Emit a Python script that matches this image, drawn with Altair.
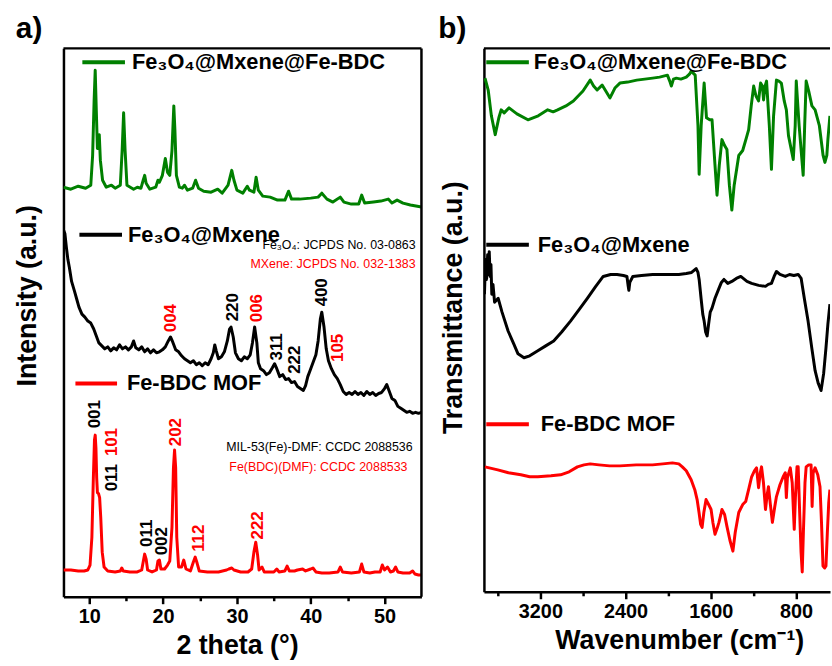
import altair as alt
import pandas as pd

FONT = "Liberation Sans"
GREEN = "#008000"
RED = "#ff0000"
BLACK = "#000000"

# ---------- (a) XRD patterns: 2θ (°) and stacked intensity (a.u.) ----------
xrd_green_2theta = [6.5, 7.5, 8.5, 9.5, 10.2, 10.45, 10.65, 10.8, 10.95, 11.1, 11.35, 11.5, 11.8, 12.3,
                    13.0, 13.5, 14.2, 14.45, 14.65, 14.85, 15.1, 16.0, 16.5, 17.0, 17.3, 17.5, 17.7,
                    18.2, 19.0, 19.3, 19.5, 19.9, 20.3, 20.6, 20.9, 21.2, 21.45, 21.6, 21.8, 22.2,
                    22.6, 22.9, 23.3, 24.0, 24.4, 24.8, 25.5, 26.5, 27.4, 28.0, 28.8, 29.3, 29.6,
                    30.0, 30.8, 31.4, 31.7, 32.3, 32.6, 32.9, 33.5, 34.5, 35.5, 36.5, 37.0, 37.4,
                    38.5, 40.0, 41.0, 41.5, 42.2, 43.0, 44.0, 44.5, 45.5, 46.5, 46.9, 47.3, 48.5,
                    49.5, 50.5, 51.0, 51.7, 52.5, 53.5, 55.0]
xrd_green_int = [413, 411, 414, 412, 415, 445, 500, 531, 490, 452, 466, 440, 420, 413,
                 415, 412, 415, 450, 488, 450, 415, 411, 413, 412, 420, 425, 417,
                 411, 413, 420, 418, 425, 442, 428, 425, 450, 495, 470, 425, 413,
                 412, 415, 410, 412, 420, 412, 409, 408, 411, 407, 415, 430, 420,
                 410, 407, 414, 410, 408, 423, 410, 404, 403, 400, 400, 409, 401,
                 401, 402, 403, 407, 401, 398, 403, 398, 396, 396, 405, 397, 398,
                 399, 401, 397, 400, 397, 395, 393]

xrd_black_2theta = [6.5, 6.7, 6.9, 7.1, 7.3, 7.6, 8.0, 8.3, 8.6, 9.0, 9.4, 9.8, 10.2, 10.6, 11.0,
                    11.3, 11.7, 12.1, 12.5, 12.9, 13.3, 13.7, 14.1, 14.5, 14.9, 15.3, 15.7, 16.0,
                    16.3, 16.7, 17.1, 17.5, 17.9, 18.3, 18.7, 19.1, 19.5, 19.9, 20.3, 20.7, 21.0,
                    21.3, 21.7, 22.1, 22.5, 22.9, 23.3, 23.7, 24.1, 24.5, 24.9, 25.3, 25.7, 26.1,
                    26.5, 26.8, 27.0, 27.2, 27.5, 27.9, 28.3, 28.7, 29.0, 29.2, 29.5, 29.8, 30.2,
                    30.6, 31.0, 31.4, 31.8, 32.1, 32.4, 32.7, 32.9, 33.2, 33.6, 34.0, 34.4, 34.8,
                    35.1, 35.4, 35.8, 36.2, 36.6, 37.0, 37.4, 37.8, 38.2, 38.6, 39.0, 39.3, 39.6,
                    39.9, 40.3, 40.7, 41.0, 41.3, 41.5, 41.8, 42.1, 42.4, 42.8, 43.2, 43.6, 44.0,
                    44.4, 44.8, 45.2, 45.6, 46.0, 46.4, 46.8, 47.2, 47.6, 48.0, 48.4, 48.8, 49.2,
                    49.6, 50.0, 50.3, 50.6, 51.0, 51.4, 51.8, 52.2, 52.6, 53.0, 53.4, 53.8, 54.2,
                    54.6, 55.0]
xrd_black_int = [370, 366, 352, 340, 332, 318, 308, 300, 292, 285, 282, 278, 276, 270, 262,
                 256, 253, 250, 252, 248, 251, 249, 254, 250, 252, 249, 252, 258,
                 251, 249, 252, 247, 250, 246, 249, 246, 247, 249, 252, 258, 262,
                 257, 249, 247, 243, 240, 238, 236, 238, 234, 236, 233, 236, 234,
                 240, 246, 254, 248, 240, 242, 247, 258, 270, 272, 262, 246, 240,
                 238, 242, 240, 244, 256, 272, 256, 236, 230, 228, 224, 226, 231,
                 235, 230, 222, 224, 219, 220, 216, 217, 212, 210, 208, 213, 222,
                 228, 236, 244, 258, 280, 287, 272, 250, 238, 230, 224, 220, 214,
                 207, 204, 206, 204, 207, 204, 206, 203, 207, 204, 206, 203, 205,
                 206, 210, 214, 208, 200, 198, 192, 190, 188, 186, 187, 185, 186,
                 185, 186]

xrd_red_2theta = [6.5, 7.5, 8.5, 9.3, 9.8, 10.1, 10.35, 10.55, 10.7, 10.8, 10.9, 11.0, 11.1, 11.25,
                  11.4, 11.55, 11.75, 12.0, 12.5, 13.5, 14.2, 14.4, 14.6, 15.5, 16.5, 17.1, 17.3,
                  17.5, 17.7, 17.9, 18.5, 19.1, 19.3, 19.5, 19.7, 20.2, 20.6, 20.9, 21.2, 21.4,
                  21.55, 21.7, 21.85, 22.1, 22.5, 22.8, 23.1, 23.7, 24.1, 24.35, 24.6, 24.9, 26.0,
                  27.5, 28.6, 28.9, 29.3, 29.6, 30.5, 31.5, 32.0, 32.3, 32.55, 32.8, 33.0, 33.4,
                  33.7, 35.0, 35.4, 35.7, 36.5, 36.8, 37.1, 37.8, 38.2, 38.9, 39.3, 40.0, 40.3,
                  40.7, 41.5, 42.5, 43.7, 44.0, 44.3, 45.5, 46.6, 46.9, 47.2, 48.0, 48.7, 49.4,
                  49.7, 50.0, 50.4, 50.8, 51.2, 51.5, 51.8, 52.5, 53.4, 53.8, 54.1, 54.6, 55.0]
xrd_red_int = [27, 27, 26, 26, 27, 32, 60, 120, 158, 163, 150, 120, 105, 104,
               100, 80, 45, 30, 26, 25, 26, 29, 26, 25, 25, 27, 35,
               43, 38, 27, 25, 27, 36, 37, 28, 28, 32, 36, 70, 130,
               148, 130, 60, 30, 30, 37, 28, 26, 35, 40, 34, 26, 25,
               25, 27, 28, 29, 27, 25, 25, 28, 45, 55, 42, 27, 30,
               25, 25, 28, 25, 26, 31, 26, 26, 27, 28, 26, 28, 29,
               25, 24, 24, 25, 30, 25, 24, 25, 33, 25, 24, 25, 25,
               32, 27, 30, 25, 26, 30, 25, 24, 24, 26, 23, 22, 22]

# ---------- (b) FTIR spectra: wavenumber (cm-1) and stacked transmittance (a.u.) ----------
ftir_green_wn = [3720, 3690, 3660, 3624, 3590, 3568, 3540, 3494, 3420, 3317, 3220, 3131, 3080,
                 3038, 2960, 2890, 2800, 2732, 2700, 2667, 2620, 2546, 2500, 2453, 2380, 2295,
                 2220, 2146, 2080, 2007, 1985, 1970, 1950, 1923, 1880, 1830, 1800, 1784, 1746,
                 1720, 1709, 1690, 1662, 1640, 1610, 1588, 1560, 1541, 1520, 1495, 1470, 1448,
                 1425, 1402, 1380, 1337, 1300, 1265, 1244, 1220, 1197, 1175, 1151, 1132, 1115,
                 1104, 1090, 1076, 1050, 1030, 1010, 983, 960, 937, 910, 890, 870, 844, 825, 807,
                 797, 770, 732, 718, 704, 680, 650, 620, 580, 545, 528, 510, 500, 481]
ftir_green_t = [518, 506, 480, 461, 478, 486, 483, 488, 482, 476, 480, 486, 484,
                486, 490, 495, 505, 516, 510, 506, 511, 498, 508, 513, 514, 516,
                517, 518, 519, 521, 515, 510, 517, 518, 517, 519, 522, 525, 521,
                470, 421, 470, 513, 478, 476, 476, 430, 400, 430, 456, 450, 446,
                410, 385, 410, 440, 445, 458, 466, 490, 510, 500, 495, 513, 510,
                496, 510, 515, 470, 426, 480, 516, 515, 513, 495, 486, 460, 446, 436, 470,
                515, 470, 420, 470, 515, 505, 490, 486, 470, 440, 433, 440, 456, 480]

ftir_black_wn = [3725, 3715, 3705, 3695, 3688, 3680, 3672, 3664, 3656, 3645, 3630, 3596, 3560,
                 3503, 3450, 3410, 3354, 3300, 3224, 3150, 3075, 3000, 2917, 2840, 2759, 2680,
                 2610, 2540, 2480, 2420, 2387, 2375, 2369, 2360, 2332, 2250, 2146, 2000, 1900,
                 1830, 1780, 1737, 1720, 1709, 1690, 1675, 1662, 1648, 1634, 1620, 1605, 1588,
                 1560, 1523, 1500, 1476, 1440, 1402, 1360, 1318, 1260, 1216, 1150, 1086, 1060,
                 1030, 1005, 983, 950, 900, 860, 820, 779, 751, 720, 686, 650, 620, 590, 564,
                 540, 518, 500, 481]
ftir_black_t = [300, 335, 315, 340, 320, 343, 318, 330, 300, 310, 292, 296, 282,
                263, 250, 240, 236, 238, 243, 248, 253, 262, 273, 284, 296, 308,
                318, 320, 320, 319, 318, 308, 304, 312, 318, 319, 320, 320, 320,
                321, 322, 326, 322, 315, 295, 280, 273, 262, 258, 270, 282, 286,
                296, 306, 312, 315, 311, 313, 316, 318, 313, 311, 309, 308, 310,
                311, 318, 323, 320, 318, 320, 319, 320, 316, 295, 273, 245, 223, 210, 203,
                220, 246, 270, 290]

ftir_red_wn = [3720, 3600, 3500, 3383, 3300, 3224, 3100, 3010, 2930, 2852, 2790, 2732, 2650,
               2550, 2453, 2300, 2146, 2050, 1960, 1900, 1867, 1830, 1784, 1750, 1728, 1710,
               1695, 1681, 1665, 1644, 1620, 1597, 1580, 1560, 1540, 1523, 1505, 1495, 1470,
               1448, 1420, 1392, 1370, 1337, 1300, 1272, 1240, 1216, 1190, 1170, 1151, 1135,
               1123, 1105, 1086, 1070, 1058, 1040, 1021, 1000, 983, 950, 920, 900, 890, 880,
               853, 835, 825, 816, 805, 790, 779, 765, 752, 741, 730, 715, 704, 680, 658, 648,
               638, 620, 595, 574, 560, 546, 530, 518, 505, 492, 481]
ftir_red_t = [126, 123, 120, 118, 116, 116, 117, 118, 121, 126, 128, 129, 128,
              127, 127, 128, 128, 129, 130, 129, 126, 122, 113, 103, 93, 80,
              68, 65, 80, 93, 88, 83, 70, 58, 64, 70, 78, 83, 78,
              66, 52, 41, 60, 80, 88, 91, 105, 116, 122, 125, 105, 120,
              126, 110, 83, 98, 106, 88, 70, 85, 96, 108, 116, 120, 95, 115,
              125, 110, 85, 63, 95, 126, 126, 80, 40, 20, 60, 110, 126, 128, 128, 86,
              120, 125, 118, 106, 70, 26, 24, 26, 60, 90, 103]

# ---------- annotations ----------
series_names = ["Fe₃O₄@Mxene@Fe-BDC", "Fe₃O₄@Mxene", "Fe-BDC MOF"]
series_colors = [GREEN, BLACK, RED]

# hkl reflections on panel (a): 2θ, height, label, colour
hkl_2theta = [21.1, 29.5, 32.7, 41.5, 35.5, 37.9, 43.7, 10.8, 13.1, 13.1, 17.8, 19.8, 21.8, 24.8, 32.8]
hkl_height = [281, 292, 291, 307, 252, 239, 251, 184, 156, 120, 64, 56, 166, 59, 72]
hkl_label = ["004", "220", "006", "400", "311", "222", "105",
             "001", "101", "011", "011", "002", "202", "112", "222"]
hkl_color = [RED, BLACK, RED, BLACK, BLACK, BLACK, RED,
             BLACK, RED, BLACK, BLACK, BLACK, RED, RED, RED]

ref_text = ["Fe₃O₄: JCPDS No. 03-0863", "MXene: JCPDS No. 032-1383",
            "MIL-53(Fe)-DMF: CCDC 2088536", "Fe(BDC)(DMF): CCDC 2088533"]
ref_2theta = [54.2, 54.2, 53.8, 53.1]
ref_height = [355, 336, 151, 131]
ref_color = [BLACK, RED, BLACK, RED]

# in-plot legend entries
leg_a_x0 = [9.06, 8.66, 8.12]
leg_a_x1 = [14.83, 14.43, 13.76]
leg_a_tx = [15.5, 14.97, 14.83]
leg_a_y = [539, 365, 215]
leg_b_x0 = [3708, 3708, 3708]
leg_b_x1 = [3308, 3308, 3308]
leg_b_tx = [3280, 3243, 3215]
leg_b_y = [534, 350, 169]

W_A, H_A = 361, 553
W_B, H_B = 349, 548

one_row = pd.DataFrame({"k": [0]})


def frame_rules(w, h, right):
    top = alt.Chart(one_row).mark_rule(color="black", strokeWidth=2.5).encode(
        x=alt.value(0), x2=alt.value(w), y=alt.value(0))
    layers = [top]
    if right:
        layers.append(alt.Chart(one_row).mark_rule(color="black", strokeWidth=2.5).encode(
            x=alt.value(w), y=alt.value(0), y2=alt.value(h)))
    return layers


def panel_tag(tag, dx):
    # panel letter placed just above the top-left corner of the frame
    return alt.Chart(pd.DataFrame({"t": [tag]})).mark_text(
        font=FONT, fontSize=30, fontWeight="bold", align="left", baseline="alphabetic",
        color="black").encode(x=alt.value(dx), y=alt.value(-10), text="t:N")


def x_axis(values, step, title, title_x):
    return alt.Axis(
        values=values, format="d",
        labelExpr=f"datum.value % {step} === 0 ? datum.label : ''",
        tickSize={"condition": {"test": f"datum.value % {step} === 0", "value": 7}, "value": 4},
        tickWidth=2.5, tickColor="black", domainColor="black", domainWidth=2.5,
        labelFont=FONT, labelFontSize=20, labelFontWeight="bold", labelColor="black",
        labelPadding=3, labelFlush=False, labelOverlap=False, labelBound=False,
        title=title, titleFont=FONT, titleFontSize=27, titleFontWeight="bold", titleColor="black",
        titleX=title_x, titleY=57, titleAlign="center", titleBaseline="alphabetic", grid=False)


def y_axis(title, title_x, title_y):
    return alt.Axis(
        labels=False, ticks=False, domainColor="black", domainWidth=2.5, grid=False,
        title=title, titleFont=FONT, titleFontSize=27, titleFontWeight="bold", titleColor="black",
        titleAngle=270, titleX=title_x, titleY=title_y, titleAlign="center",
        titleBaseline="alphabetic")


def panel(curves, x_enc, y_enc, labels, legend_df, w, h, right, tag, tag_dx):
    layers = []
    for (xs, ys), col in zip(curves, series_colors):
        df = pd.DataFrame({"x": xs, "y": ys})
        layers.append(alt.Chart(df).mark_line(color=col, strokeWidth=3, strokeJoin="round",
                                              clip=True).encode(x=x_enc, y=y_enc))
    layers.append(alt.Chart(legend_df).mark_rule(strokeWidth=4).encode(
        x=x_enc, x2="x1:Q", y=y_enc, color=alt.Color("c:N", scale=None)))
    layers.append(alt.Chart(legend_df).mark_text(
        font=FONT, fontSize=22, fontWeight="bold", align="left", baseline="middle", dx=2,
        color="black").encode(x=alt.X("tx:Q"), y=y_enc, text="t:N"))
    layers.extend(labels)
    layers.extend(frame_rules(w, h, right))
    layers.append(panel_tag(tag, tag_dx))
    return alt.layer(*layers).properties(width=w, height=h)


# ---- panel (a) ----
sx_a = alt.Scale(domain=[6.5, 55], nice=False, zero=False)
sy_a = alt.Scale(domain=[0, H_A], nice=False)
xa = alt.X("x:Q", scale=sx_a, axis=x_axis([10, 15, 20, 25, 30, 35, 40, 45, 50], 10,
                                          "2 theta (°)", 175))
ya = alt.Y("y:Q", scale=sy_a, axis=y_axis("Intensity (a.u.)", -28, 249))

hkl_df = pd.DataFrame({"x": hkl_2theta, "y": hkl_height, "t": hkl_label, "c": hkl_color})
hkl_layer = alt.Chart(hkl_df).mark_text(
    font=FONT, fontSize=17, fontWeight="bold", angle=270, align="center", baseline="middle"
).encode(x=xa, y=ya, text="t:N", color=alt.Color("c:N", scale=None))
ref_df = pd.DataFrame({"x": ref_2theta, "y": ref_height, "t": ref_text, "c": ref_color})
ref_layer = alt.Chart(ref_df).mark_text(
    font=FONT, fontSize=12.5, align="right", baseline="middle"
).encode(x=xa, y=ya, text="t:N", color=alt.Color("c:N", scale=None))

leg_a = pd.DataFrame({"x": leg_a_x0, "x1": leg_a_x1, "tx": leg_a_tx, "y": leg_a_y,
                      "t": series_names, "c": series_colors})
panel_a = panel(
    [(xrd_green_2theta, xrd_green_int), (xrd_black_2theta, xrd_black_int),
     (xrd_red_2theta, xrd_red_int)],
    xa, ya, [hkl_layer, ref_layer], leg_a, W_A, H_A, True, "a)", -48)

# ---- panel (b) ----
sx_b = alt.Scale(domain=[3730, 480], nice=False, zero=False)
sy_b = alt.Scale(domain=[0, H_B], nice=False)
xb = alt.X("x:Q", scale=sx_b, axis=x_axis([3600, 3200, 2800, 2400, 2000, 1600, 1200, 800], 800,
                                          "Wavenumber (cm⁻¹)", 197))
yb = alt.Y("y:Q", scale=sy_b, axis=y_axis("Transmittance (a.u.)", -23, 261))

leg_b = pd.DataFrame({"x": leg_b_x0, "x1": leg_b_x1, "tx": leg_b_tx, "y": leg_b_y,
                      "t": series_names, "c": series_colors})
panel_b = panel(
    [(ftir_green_wn, ftir_green_t), (ftir_black_wn, ftir_black_t), (ftir_red_wn, ftir_red_t)],
    xb, yb, [], leg_b, W_B, H_B, False, "b)", -46)

chart = alt.hconcat(panel_a, panel_b, spacing=14).configure(
    font=FONT, padding={"left": 13, "top": 11, "right": 0, "bottom": 0}
).configure_view(stroke="transparent")

chart.save("out.html", embed_options={"renderer": "svg", "actions": False})
